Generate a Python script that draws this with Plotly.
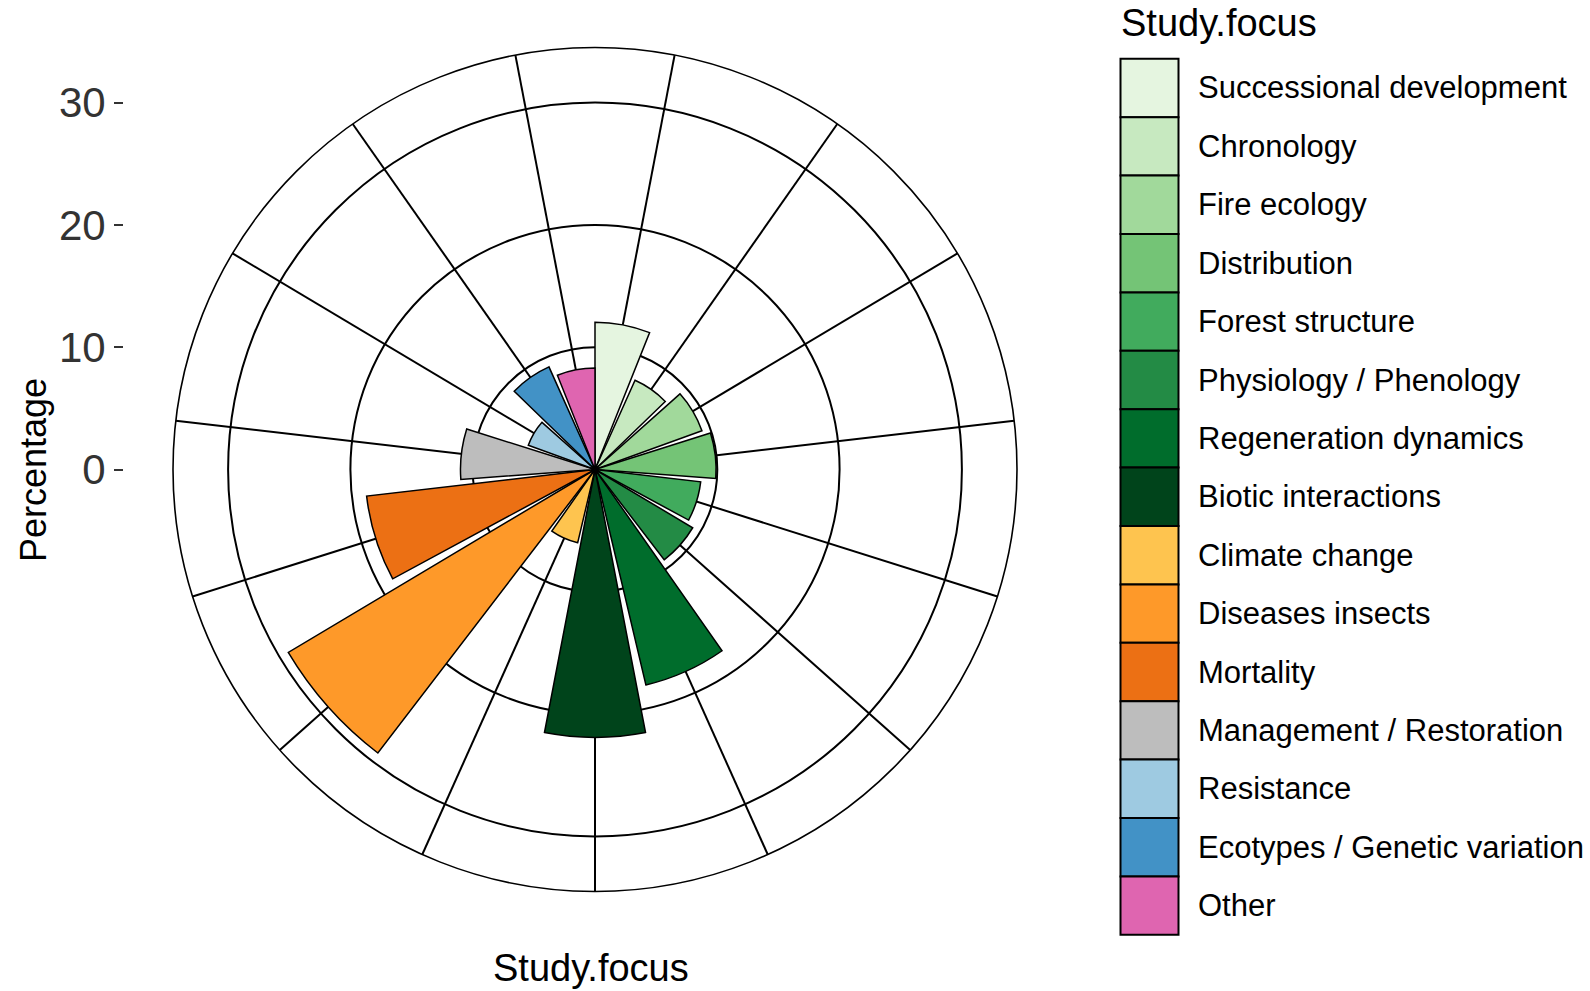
import numpy as np
import plotly.graph_objects as go

# data
categories = [
    "Successional development", "Chronology", "Fire ecology", "Distribution",
    "Forest structure", "Physiology / Phenology", "Regeneration dynamics",
    "Biotic interactions", "Climate change", "Diseases insects", "Mortality",
    "Management / Restoration", "Resistance", "Ecotypes / Genetic variation", "Other",
]
percentages = [12.05, 8.0, 9.3, 9.9, 8.7, 9.3, 18.1, 21.9, 6.15, 29.2, 18.8, 11.0, 5.8, 9.2, 8.3]
colors = [
    "#E5F5E0", "#C7E9C0", "#A1D99B", "#74C476", "#41AB5D", "#238B45", "#006D2C",
    "#00441B", "#FEC44F", "#FE9929", "#EC7014", "#BDBDBD", "#9ECAE1", "#4292C6", "#DF65B0",
]
y_ticks = [0, 10, 20, 30]

W, H = 1590, 991
FONT = "Arial, Liberation Sans, sans-serif"


def px(x):
    return x / W


def py(y):
    return 1 - y / H


# discrete theta scale like ggplot coord_polar: range [1-0.45, n+0.45]
n = len(categories)
bar_w = 0.9
step = 360 / (n - 1 + bar_w)
theta = (np.arange(n) + bar_w / 2) * step

# panel geometry in page pixels (10 units = 122.3 px)
cx, cy, rad = 595, 469.5, 422
r_max = rad / 12.23
dom_x = [px(cx - rad), px(cx + rad)]
dom_y = [py(cy + rad), py(cy - rad)]

fig = go.Figure()
fig.add_trace(go.Barpolar(
    r=percentages,
    theta=theta,
    width=[bar_w * step] * n,
    marker=dict(color=colors, line=dict(color="black", width=1.5)),
    showlegend=False,
    hoverinfo="skip",
))

# invisible cartesian trace so the left "Percentage" axis is drawn
fig.add_trace(go.Scatter(x=[0], y=[0], mode="markers", marker=dict(opacity=0),
                         showlegend=False, hoverinfo="skip"))

fig.update_layout(
    width=W, height=H,
    margin=dict(l=0, r=0, t=0, b=0),
    paper_bgcolor="white",
    plot_bgcolor="rgba(0,0,0,0)",
    font=dict(family=FONT, color="black"),
    polar=dict(
        domain=dict(x=dom_x, y=dom_y),
        bgcolor="white",
        angularaxis=dict(
            rotation=90, direction="clockwise",
            tickvals=theta, showticklabels=False, ticks="",
            showgrid=True, gridcolor="black", gridwidth=1.6,
            showline=True, linecolor="black", linewidth=1.6,
            layer="below traces",
        ),
        radialaxis=dict(
            range=[0, r_max], tickvals=y_ticks[1:], showticklabels=False, ticks="",
            showgrid=True, gridcolor="black", gridwidth=1.6,
            showline=False, layer="below traces",
        ),
    ),
    xaxis=dict(domain=[px(123), px(126)], visible=False, range=[-1, 1]),
    yaxis=dict(
        domain=dom_y, range=[-r_max, r_max], anchor="free", position=px(123),
        tickvals=y_ticks, ticks="outside", ticklen=9, tickwidth=1.5,
        tickcolor="#333333", showgrid=False, zeroline=False, showline=False,
        tickfont=dict(size=42, color="#333333", family=FONT),
        ticklabelstandoff=0,
    ),
)

annotations = [
    dict(text="Percentage", x=px(34), y=py(470), textangle=-90,
         font=dict(size=36, color="black")),
    dict(text="Study.focus", x=px(591), y=py(991), yanchor="bottom",
         font=dict(size=38, color="black")),
    dict(text="Study.focus", x=px(1119), y=py(0), xanchor="left", yanchor="top",
         font=dict(size=38, color="black")),
]

# legend drawn by hand to get ggplot-style large keys
shapes = []
key_top, key_h = 58.8, 58.4
kx0, kx1 = 1120.5, 1178.5
for i, (cat, col) in enumerate(zip(categories, colors)):
    y0 = key_top + i * key_h
    y1 = y0 + key_h
    shapes.append(dict(type="rect", xref="paper", yref="paper",
                       x0=px(kx0), x1=px(kx1), y0=py(y1), y1=py(y0),
                       fillcolor=col, line=dict(color="black", width=2)))
    annotations.append(dict(text=cat, x=px(1196), y=py(y0 + key_h / 2), xanchor="left",
                            font=dict(size=31, color="black")))

for a in annotations:
    a.setdefault("xanchor", "center")
    a.setdefault("yanchor", "middle")
    a.update(xref="paper", yref="paper", showarrow=False)

fig.update_layout(annotations=annotations, shapes=shapes)

# drop the default 8px body margin so the figure fills the 1590x991 page
fig.write_html("out.html", config={"displayModeBar": False},
               post_script="document.body.style.margin = '0';")
